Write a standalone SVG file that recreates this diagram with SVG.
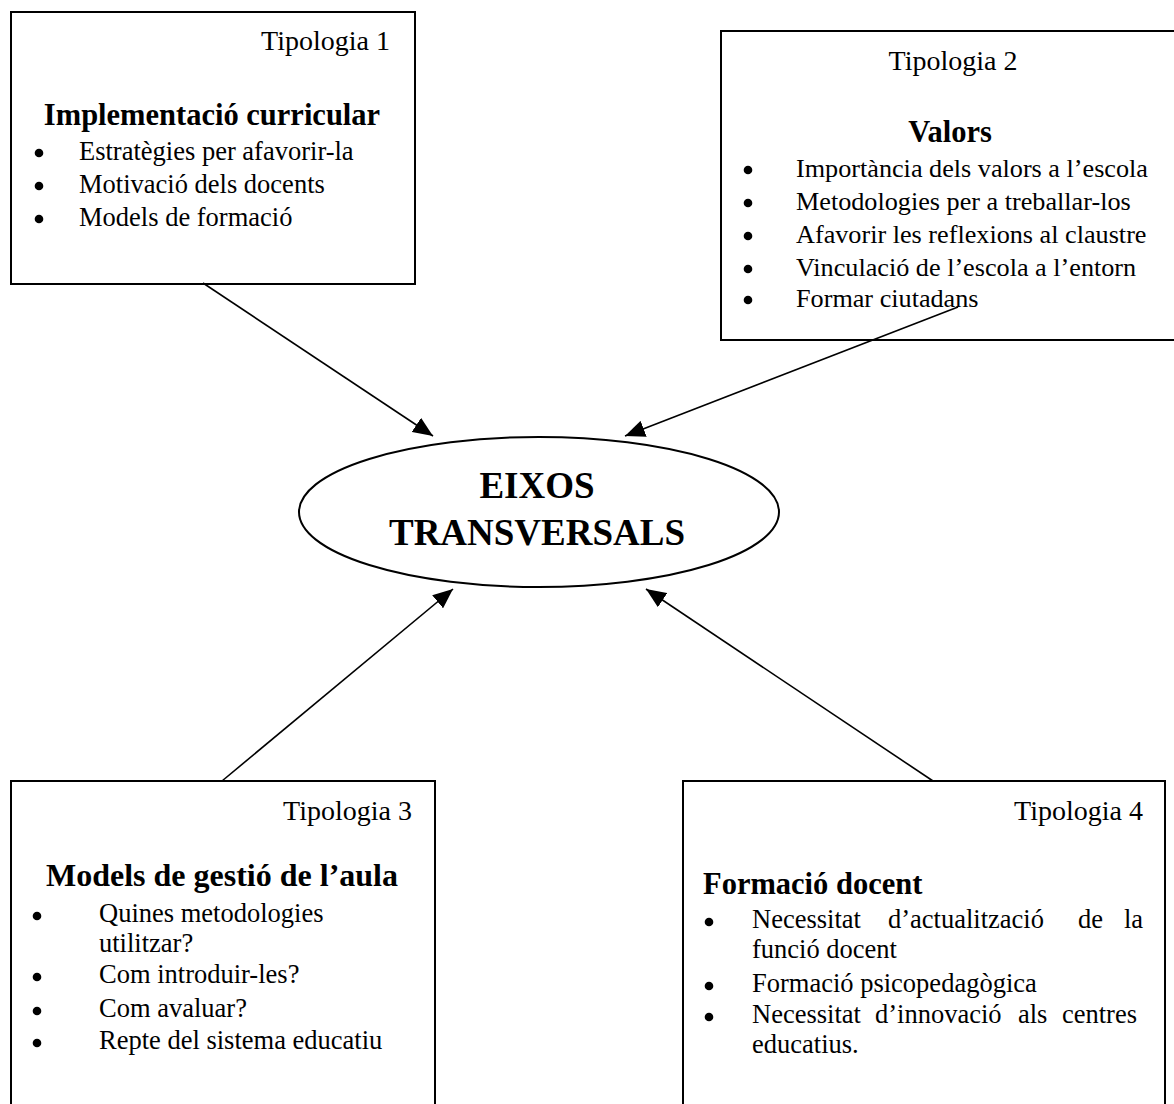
<svg xmlns="http://www.w3.org/2000/svg" width="1174" height="1104" viewBox="0 0 1174 1104">
  <defs>
    <style>
      .box { fill: #ffffff; stroke: #000000; stroke-width: 2; }
      .hub { fill: #ffffff; stroke: #000000; stroke-width: 2; }
      .t { font-family: "Liberation Serif", "Times New Roman", serif; fill: #000000; }
      .tip { font-size: 28px; }
      .head { font-size: 30.5px; font-weight: bold; }
      .item { font-size: 26.5px; }
      .item2 { font-size: 26.2px; }
      .dot { fill: #000000; }
      .hubtxt { font-size: 37px; font-weight: bold; text-anchor: middle; }
      .conn { stroke: #000000; stroke-width: 1.6; fill: none; marker-end: url(#arrow); }
    </style>
    <marker id="arrow" viewBox="0 0 20 17" refX="20" refY="8.5" markerWidth="20" markerHeight="17" markerUnits="userSpaceOnUse" orient="auto">
      <path d="M0,0 L20,8.5 L0,17 z" fill="#000000"/>
    </marker>
  </defs>

  <!-- Tipologia 1 -->
  <g id="tipologia1">
    <rect class="box" x="11" y="12" width="404" height="272"/>
    <text class="t tip" x="390" y="50" text-anchor="end">Tipologia 1</text>
    <text class="t head" x="212" y="125" text-anchor="middle">Implementació curricular</text>
    <circle class="dot" cx="39" cy="153" r="4.3"/>
    <text class="t item" x="79" y="160">Estratègies per afavorir-la</text>
    <circle class="dot" cx="39" cy="186" r="4.3"/>
    <text class="t item" x="79" y="193">Motivació dels docents</text>
    <circle class="dot" cx="39" cy="219" r="4.3"/>
    <text class="t item" x="79" y="226">Models de formació</text>
  </g>

  <!-- Tipologia 2 -->
  <g id="tipologia2">
    <rect class="box" x="721" y="31" width="470" height="309"/>
    <text class="t tip" x="953" y="70" text-anchor="middle">Tipologia 2</text>
    <text class="t head" x="950" y="142" text-anchor="middle">Valors</text>
    <circle class="dot" cx="748" cy="170" r="4.3"/>
    <text class="t item2" x="796" y="177">Importància dels valors a l’escola</text>
    <circle class="dot" cx="748" cy="203" r="4.3"/>
    <text class="t item2" x="796" y="210">Metodologies per a treballar-los</text>
    <circle class="dot" cx="748" cy="236" r="4.3"/>
    <text class="t item2" x="796" y="243">Afavorir les reflexions al claustre</text>
    <circle class="dot" cx="748" cy="269" r="4.3"/>
    <text class="t item2" x="796" y="276">Vinculació de l’escola a l’entorn</text>
    <circle class="dot" cx="748" cy="300" r="4.3"/>
    <text class="t item2" x="796" y="307">Formar ciutadans</text>
  </g>

  <!-- Tipologia 3 -->
  <g id="tipologia3">
    <rect class="box" x="11" y="781" width="424" height="340"/>
    <text class="t tip" x="412" y="820" text-anchor="end">Tipologia 3</text>
    <text class="t head" x="222" y="886" text-anchor="middle" style="font-size:32px">Models de gestió de l’aula</text>
    <circle class="dot" cx="37" cy="916" r="4.3"/>
    <text class="t item" x="99" y="922">Quines metodologies</text>
    <text class="t item" x="99" y="952">utilitzar?</text>
    <circle class="dot" cx="37" cy="977" r="4.3"/>
    <text class="t item" x="99" y="983">Com introduir-les?</text>
    <circle class="dot" cx="37" cy="1011" r="4.3"/>
    <text class="t item" x="99" y="1017">Com avaluar?</text>
    <circle class="dot" cx="37" cy="1043" r="4.3"/>
    <text class="t item" x="99" y="1049">Repte del sistema educatiu</text>
  </g>

  <!-- Tipologia 4 -->
  <g id="tipologia4">
    <rect class="box" x="683" y="781" width="482" height="340"/>
    <text class="t tip" x="1143" y="820" text-anchor="end">Tipologia 4</text>
    <text class="t head" x="703" y="894">Formació docent</text>
    <circle class="dot" cx="709" cy="922" r="4.3"/>
    <text class="t item" y="928"><tspan x="752">Necessitat</tspan><tspan x="888">d’actualització</tspan><tspan x="1078">de</tspan></text>
    <text class="t item" x="1143" y="928" text-anchor="end">la</text>
    <text class="t item" x="752" y="958">funció docent</text>
    <circle class="dot" cx="709" cy="986" r="4.3"/>
    <text class="t item" x="752" y="992">Formació psicopedagògica</text>
    <circle class="dot" cx="709" cy="1017" r="4.3"/>
    <text class="t item" y="1023"><tspan x="752">Necessitat</tspan><tspan x="875">d’innovació</tspan><tspan x="1018">als</tspan></text>
    <text class="t item" x="1137" y="1023" text-anchor="end">centres</text>
    <text class="t item" x="752" y="1053">educatius.</text>
  </g>

  <!-- Central hub -->
  <g id="eixos">
    <ellipse class="hub" cx="539" cy="512" rx="240" ry="75"/>
    <text class="t hubtxt" x="537" y="498">EIXOS</text>
    <text class="t hubtxt" x="537" y="545">TRANSVERSALS</text>
  </g>

  <!-- Connectors -->
  <g id="connectors">
    <line class="conn" x1="203" y1="283" x2="433" y2="436"/>
    <line class="conn" x1="958" y1="307" x2="625" y2="436"/>
    <line class="conn" x1="222" y1="781" x2="453" y2="589"/>
    <line class="conn" x1="933" y1="781" x2="646" y2="589"/>
  </g>
</svg>
